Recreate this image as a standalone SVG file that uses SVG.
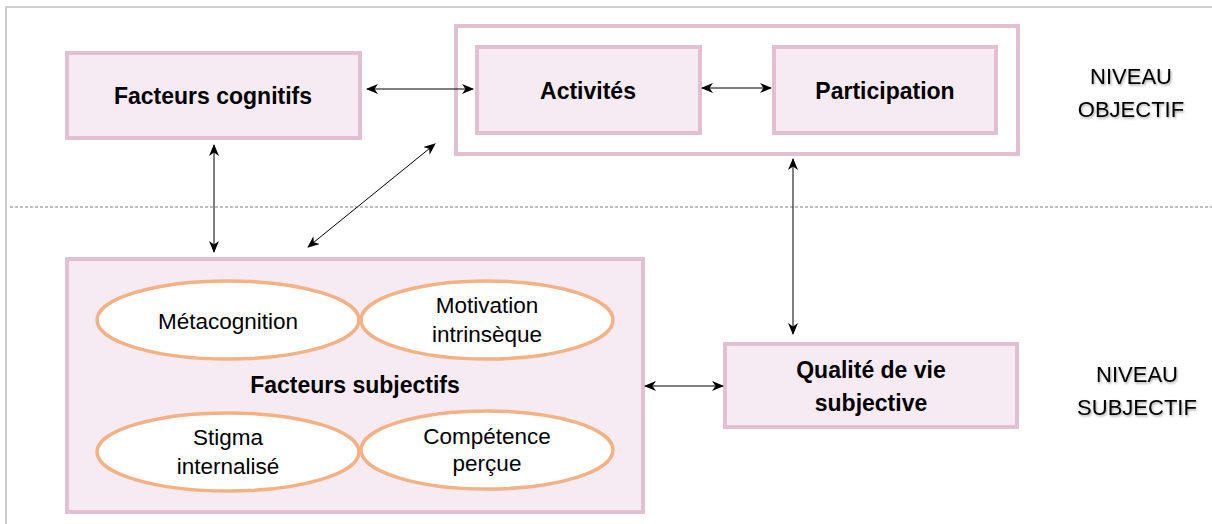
<svg xmlns="http://www.w3.org/2000/svg" width="1212" height="524" viewBox="0 0 1212 524">
<defs>
<marker id="ah" viewBox="0 0 12 10" refX="11" refY="5" markerWidth="12" markerHeight="10" markerUnits="userSpaceOnUse" orient="auto-start-reverse">
<path d="M0,0 L12,5 L0,10 L3.5,5 z" fill="#000"/>
</marker>
<filter id="sh" x="-20%" y="-20%" width="140%" height="160%">
<feDropShadow dx="1" dy="1.5" stdDeviation="1" flood-color="#000" flood-opacity="0.35"/>
</filter>
</defs>
<style>
.box{fill:#f6ebf2;stroke:#e3bfd2;stroke-width:4}
.frame{fill:#fff;stroke:#e3bfd2;stroke-width:4}
.ell{fill:#fff;stroke:#f4b183;stroke-width:3.5}
.b{font-family:"Liberation Sans",Arial,sans-serif;font-weight:bold;font-size:23px;fill:#000;text-anchor:middle}
.r{font-family:"Liberation Sans",Arial,sans-serif;font-size:22.5px;fill:#000;text-anchor:middle}
.lvl{font-family:"Liberation Sans",Arial,sans-serif;font-size:22px;fill:#000;text-anchor:middle;filter:url(#sh)}
.con{stroke:#000;stroke-width:1;fill:none;marker-start:url(#ah);marker-end:url(#ah)}
</style>
<rect width="1212" height="524" fill="#fff"/>
<path d="M6,524 V7 H1212" fill="none" stroke="#bfbfbf" stroke-width="1.5"/>
<line x1="10" y1="207" x2="1212" y2="207" stroke="#808080" stroke-width="1" stroke-dasharray="3,2"/>

<g id="objectif">
<rect class="frame" x="456" y="26" width="562" height="128"/>
</g>
<g id="facteurs-cognitifs">
<rect class="box" x="67" y="53" width="293" height="85"/>
<text class="b" x="213" y="104">Facteurs cognitifs</text>
</g>
<g id="activites">
<rect class="box" x="477" y="47" width="223" height="86"/>
<text class="b" x="588" y="99">Activités</text>
</g>
<g id="participation">
<rect class="box" x="774" y="47" width="222" height="86"/>
<text class="b" x="885" y="99">Participation</text>
</g>
<g id="facteurs-subjectifs">
<rect class="box" x="67" y="259" width="576" height="253"/>
<text class="b" x="355" y="393">Facteurs subjectifs</text>
</g>
<g id="metacognition">
<ellipse class="ell" cx="228" cy="320" rx="131" ry="39"/>
<text class="r" x="228" y="329">Métacognition</text>
</g>
<g id="motivation">
<ellipse class="ell" cx="487" cy="320" rx="126" ry="39"/>
<text class="r" x="487" y="313">Motivation</text>
<text class="r" x="487" y="342">intrinsèque</text>
</g>
<g id="stigma">
<ellipse class="ell" cx="228" cy="452" rx="131" ry="39"/>
<text class="r" x="228" y="445">Stigma</text>
<text class="r" x="228" y="474">internalisé</text>
</g>
<g id="competence">
<ellipse class="ell" cx="487" cy="450" rx="126" ry="39"/>
<text class="r" x="487" y="444">Compétence</text>
<text class="r" x="487" y="471">perçue</text>
</g>
<g id="qualite">
<rect class="box" x="725" y="344" width="292" height="83"/>
<text class="b" x="871" y="378">Qualité de vie</text>
<text class="b" x="871" y="411">subjective</text>
</g>
<g id="niveau-objectif">
<text class="lvl" x="1131" y="84">NIVEAU</text>
<text class="lvl" x="1131" y="117">OBJECTIF</text>
</g>
<g id="niveau-subjectif">
<text class="lvl" x="1137" y="382">NIVEAU</text>
<text class="lvl" x="1137" y="415">SUBJECTIF</text>
</g>

<g id="connectors">
<line class="con" x1="367" y1="89" x2="473" y2="89"/>
<line class="con" x1="702" y1="88" x2="771" y2="88"/>
<line class="con" x1="214" y1="145" x2="214" y2="252"/>
<line class="con" x1="435" y1="144" x2="308" y2="247"/>
<line class="con" x1="793" y1="159" x2="793" y2="334"/>
<line class="con" x1="645" y1="386" x2="723" y2="386"/>
</g>
</svg>
